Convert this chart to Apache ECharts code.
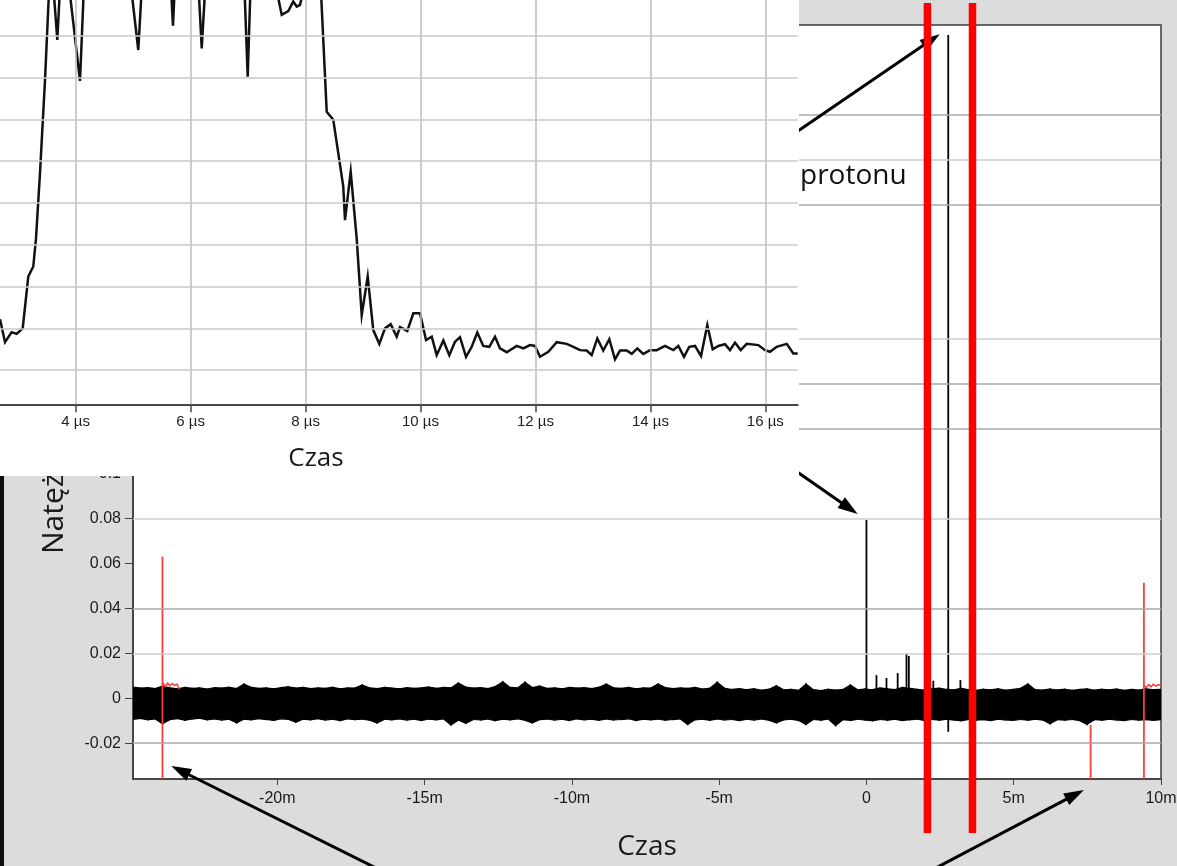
<!DOCTYPE html>
<html>
<head>
<meta charset="utf-8">
<script src="https://cdn.jsdelivr.net/npm/echarts@6/dist/echarts.min.js"></script>
<style>
html,body{margin:0;padding:0;width:1177px;height:866px;overflow:hidden;background:#dcdcdc;}
#main{position:absolute;left:0;top:0;width:1177px;height:866px;}
#inset{position:absolute;left:0;top:0;width:799px;height:476px;background:#ffffff;}
</style>
</head>
<body>
<div id="main"></div>
<div id="inset"></div>
<script>
// ================= DATA =================
// Main chart (time in ms, current in A)
const mainXTicks = [-20, -15, -10, -5, 0, 5, 10];
const mainYTicks = [-0.02, 0, 0.02, 0.04, 0.06, 0.08, 0.1, 0.12, 0.14, 0.16, 0.18, 0.2, 0.22, 0.24, 0.26, 0.28, 0.3];
const gridLinesStrong = [-0.02, 0.04, 0.12, 0.14, 0.22, 0.26];
const gridLinesFaint = [0.02, 0.08, 0.16, 0.24];

// Noise band envelope (upper / lower edge), evenly spaced from bandStart to bandEnd
const bandStart = -24.9, bandEnd = 10;
const bandHi = [
0.0050,0.0045,0.0047,0.0043,0.0054,0.0046,0.0042,0.0048,0.0044,0.0046,
0.0041,0.0047,0.0045,0.0049,0.0043,0.0063,0.0048,0.0044,0.0046,0.0042,
0.0047,0.0051,0.0045,0.0048,0.0043,0.0046,0.0044,0.0049,0.0042,0.0046,
0.0045,0.0059,0.0046,0.0043,0.0048,0.0045,0.0042,0.0047,0.0044,0.0046,
0.0050,0.0044,0.0048,0.0046,0.0068,0.0049,0.0045,0.0047,0.0043,0.0052,
0.0073,0.0048,0.0046,0.0071,0.0047,0.0054,0.0044,0.0046,0.0042,0.0048,
0.0045,0.0047,0.0043,0.0049,0.0063,0.0046,0.0044,0.0048,0.0042,0.0046,
0.0045,0.0063,0.0047,0.0043,0.0046,0.0044,0.0048,0.0041,0.0045,0.0071,
0.0044,0.0039,0.0043,0.0038,0.0042,0.0036,0.0040,0.0056,0.0037,0.0039,
0.0035,0.0063,0.0038,0.0034,0.0040,0.0036,0.0039,0.0059,0.0037,0.0041,
0.0038,0.0046,0.0042,0.0039,0.0048,0.0044,0.0040,0.0036,0.0042,0.0045,
0.0039,0.0037,0.0044,0.0038,0.0035,0.0040,0.0037,0.0042,0.0036,0.0039,
0.0044,0.0063,0.0038,0.0036,0.0041,0.0037,0.0040,0.0035,0.0039,0.0042,
0.0036,0.0040,0.0037,0.0041,0.0035,0.0039,0.0036,0.0042,0.0038,0.0040
];
const bandLo = [
-0.0094,-0.0090,-0.0096,-0.0092,-0.0114,-0.0095,-0.0091,-0.0098,-0.0093,-0.0089,
-0.0096,-0.0092,-0.0097,-0.0094,-0.0110,-0.0093,-0.0096,-0.0091,-0.0095,-0.0099,
-0.0092,-0.0094,-0.0107,-0.0093,-0.0096,-0.0091,-0.0097,-0.0094,-0.0100,-0.0092,
-0.0095,-0.0093,-0.0098,-0.0111,-0.0094,-0.0096,-0.0092,-0.0097,-0.0094,-0.0099,
-0.0093,-0.0096,-0.0092,-0.0119,-0.0098,-0.0112,-0.0095,-0.0097,-0.0093,-0.0100,
-0.0094,-0.0096,-0.0092,-0.0098,-0.0110,-0.0095,-0.0093,-0.0097,-0.0094,-0.0099,
-0.0092,-0.0096,-0.0094,-0.0098,-0.0093,-0.0097,-0.0095,-0.0092,-0.0099,-0.0094,
-0.0096,-0.0093,-0.0098,-0.0095,-0.0092,-0.0117,-0.0096,-0.0094,-0.0098,-0.0093,
-0.0097,-0.0095,-0.0100,-0.0094,-0.0097,-0.0093,-0.0098,-0.0110,-0.0096,-0.0094,
-0.0099,-0.0117,-0.0095,-0.0098,-0.0093,-0.0122,-0.0096,-0.0099,-0.0094,-0.0097,
-0.0101,-0.0095,-0.0098,-0.0094,-0.0100,-0.0096,-0.0093,-0.0099,-0.0095,-0.0098,
-0.0094,-0.0097,-0.0101,-0.0095,-0.0098,-0.0096,-0.0100,-0.0094,-0.0097,-0.0099,
-0.0095,-0.0098,-0.0094,-0.0097,-0.0114,-0.0096,-0.0098,-0.0095,-0.0100,-0.0117,
-0.0096,-0.0098,-0.0094,-0.0097,-0.0100,-0.0095,-0.0098,-0.0096,-0.0099,-0.0095
];

// Black spikes (time, top, bottom)
const spikeTimes   = [0.0,    0.34,   0.68,   1.06,   1.36,   1.44,   2.27,   2.777,   3.19];
const spikeTops    = [0.0794, 0.0103, 0.0090, 0.0112, 0.0200, 0.0188, 0.0078, 0.2955,  0.0081];
const spikeBottoms = [-0.006, 0.0,    0.0,    0.0,    0.0,    0.0,    0.0,    -0.0149, 0.0];

// Red channel spikes (time, top, bottom)
const redSpikeTimes   = [-23.90, 7.61,    9.42];
const redSpikeTops    = [0.0631, -0.0119, 0.0515];
const redSpikeBottoms = [-0.036, -0.036,  -0.036];
// Red channel noise fragments
const redNoiseA = [[-23.88,0.0068],[-23.80,0.0050],[-23.73,0.0069],[-23.65,0.0054],[-23.57,0.0067],[-23.49,0.0056],[-23.41,0.0064],[-23.32,0.0040]];
const redNoiseB = [[9.43,0.0058],[9.50,0.0046],[9.58,0.0062],[9.66,0.0050],[9.74,0.0063],[9.82,0.0053],[9.90,0.0061],[10.0,0.0056]];

// Annotation anchors (data coords)
const redMarkerTimes = [2.07, 3.60];
const arrowTips = [[2.488, 0.2959], [-0.299, 0.0821], [-23.60, -0.0302], [7.383, -0.0409]];

// Inset chart (time in µs)
const insetXTicks = [4, 6, 8, 10, 12, 14, 16];
const insetGridY = [0, 1, 2, 3, 4, 5, 6, 7, 8];
const insetTime = [2.683,2.770,2.886,2.973,3.078,3.175,3.262,3.309,3.379,3.466,3.560,3.610,3.680,3.740,3.820,3.900,4.075,4.150,4.250,4.400,4.600,4.800,4.960,5.089,5.160,5.300,5.500,5.660,5.693,5.725,5.900,6.140,6.193,6.260,6.450,6.700,6.935,6.993,7.045,7.250,7.460,7.525,7.585,7.699,7.786,7.846,7.903,8.000,8.150,8.270,8.368,8.482,8.656,8.686,8.785,8.890,8.977,9.081,9.178,9.283,9.382,9.481,9.586,9.643,9.770,9.875,9.991,10.096,10.195,10.282,10.397,10.501,10.600,10.687,10.792,10.891,10.988,11.092,11.197,11.296,11.383,11.500,11.674,11.789,11.905,11.992,12.079,12.224,12.370,12.544,12.659,12.775,12.892,12.979,13.076,13.180,13.285,13.384,13.471,13.588,13.675,13.772,13.877,13.993,14.110,14.254,14.398,14.486,14.585,14.677,14.776,14.881,14.990,15.084,15.182,15.298,15.385,15.472,15.571,15.676,15.878,15.994,16.081,16.198,16.372,16.487,16.563];
const insetValue = [1.22,0.67,0.91,0.87,1.00,2.24,2.48,3.14,4.72,6.94,9.80,9.20,7.90,9.50,10.2,9.00,6.92,9.40,10.1,9.90,10.3,10.0,9.20,7.66,9.40,10.2,9.90,9.10,8.24,9.20,10.1,9.10,7.70,9.30,10.0,10.2,9.20,7.02,9.30,9.90,9.10,8.90,8.50,8.59,8.82,8.70,8.74,9.30,10.0,9.00,6.18,5.99,4.39,3.59,4.75,3.14,1.32,2.24,0.96,0.63,1.00,1.10,0.80,1.03,0.94,1.36,1.36,0.72,0.80,0.36,0.71,0.36,0.68,0.79,0.32,0.56,0.90,0.58,0.56,0.80,0.52,0.43,0.58,0.52,0.60,0.58,0.32,0.44,0.67,0.63,0.56,0.48,0.47,0.36,0.76,0.47,0.74,0.26,0.47,0.47,0.39,0.52,0.39,0.48,0.48,0.58,0.48,0.58,0.32,0.56,0.58,0.34,1.08,0.50,0.58,0.62,0.48,0.66,0.48,0.63,0.60,0.48,0.44,0.56,0.63,0.40,0.40];

// ================= STYLE =================
const FONT_TICK = '"Liberation Sans", Arial, Helvetica, sans-serif';
const FONT_TITLE = '"Open Sans", "Noto Sans", sans-serif';
const TXT = '#1a1a1a';

const bandTime = bandHi.map((_, i) => bandStart + i * (bandEnd - bandStart) / (bandHi.length - 1));

function spikeSeries(times, tops, bottoms, color, width, z) {
  return {
    type: 'custom', z: z, silent: true, clip: true, animation: false,
    data: times.map((t, i) => [t, tops[i], bottoms[i]]),
    encode: { x: 0, y: [1, 2] },
    renderItem: function (params, api) {
      const a = api.coord([api.value(0), api.value(1)]);
      const b = api.coord([api.value(0), api.value(2)]);
      return { type: 'line', shape: { x1: a[0], y1: a[1], x2: b[0], y2: b[1] },
               style: { stroke: color, lineWidth: width } };
    }
  };
}

// ================= MAIN CHART =================
const chart = echarts.init(document.getElementById('main'));
chart.setOption({
  animation: false,
  backgroundColor: '#dcdcdc',
  grid: { left: 133, right: 16, top: 25, bottom: 87, show: true, backgroundColor: '#ffffff',
          borderColor: '#3c3c3c', borderWidth: 1.5, containLabel: false, outerBoundsMode: 'none' },
  xAxis: {
    type: 'value', min: bandStart, max: bandEnd,
    axisLine: { show: true, onZero: false, lineStyle: { color: '#3c3c3c', width: 1.5 } },
    axisTick: { show: true, customValues: mainXTicks, length: 6, lineStyle: { color: '#444', width: 1 } },
    axisLabel: { customValues: mainXTicks, color: TXT, fontSize: 16, fontFamily: FONT_TICK, margin: 12,
                 formatter: v => (Math.abs(v) < 1e-9 ? '0' : Math.round(v) + 'm') },
    splitLine: { show: false },
    name: 'Czas', nameLocation: 'middle', nameGap: 54,
    nameTextStyle: { fontFamily: FONT_TITLE, fontSize: 28, color: TXT }
  },
  yAxis: {
    type: 'value', min: -0.036, max: 0.3,
    axisLine: { show: true, onZero: false, lineStyle: { color: '#3c3c3c', width: 1.5 } },
    axisTick: { show: true, customValues: mainYTicks, length: 8, lineStyle: { color: '#444', width: 1 } },
    axisLabel: { customValues: mainYTicks, color: TXT, fontSize: 16, fontFamily: FONT_TICK, margin: 12,
                 formatter: v => String(+(+v).toFixed(3)) },
    splitLine: { show: false }
  },
  series: [
    {
      type: 'line', z: 1, silent: true, symbol: 'none', data: [[bandStart, -0.036]],
      lineStyle: { width: 0 },
      markLine: {
        silent: true, symbol: 'none', animation: false, label: { show: false },
        lineStyle: { type: 'solid', width: 1.5, color: '#bdbdbd' },
        emphasis: { disabled: true },
        data: gridLinesStrong.map(v => ({ yAxis: v, lineStyle: { color: '#a9a9a9', width: 1.5, type: 'solid' } }))
          .concat(gridLinesFaint.map(v => ({ yAxis: v, lineStyle: { color: '#cecece', width: 1.5, type: 'solid' } })))
      }
    },
    {
      type: 'custom', z: 2, silent: true, clip: true, animation: false,
      data: bandHi.map((h, i) => [bandTime[i], h, bandLo[i]]),
      encode: { x: 0, y: [1, 2] },
      renderItem: function (params, api) {
        const i = params.dataIndex;
        if (i >= bandTime.length - 1) return;
        const p1 = api.coord([bandTime[i], bandHi[i]]);
        const p2 = api.coord([bandTime[i + 1], bandHi[i + 1]]);
        const p3 = api.coord([bandTime[i + 1], bandLo[i + 1]]);
        const p4 = api.coord([bandTime[i], bandLo[i]]);
        return { type: 'polygon', shape: { points: [p1, p2, p3, p4] },
                 style: { fill: '#000', stroke: '#000', lineWidth: 1.2 } };
      }
    },
    spikeSeries(spikeTimes, spikeTops, spikeBottoms, '#000000', 1.8, 3),
    spikeSeries(redSpikeTimes, redSpikeTops, redSpikeBottoms, '#ff3b3b', 1.8, 4),
    { type: 'line', z: 4, silent: true, symbol: 'none', data: redNoiseA, lineStyle: { color: '#ff3b3b', width: 1.5 } },
    { type: 'line', z: 4, silent: true, symbol: 'none', data: redNoiseB, lineStyle: { color: '#ff3b3b', width: 1.5 } }
  ]
});

// ---- annotations (positions derived from the chart's own scales) ----
function px(t, v) { return chart.convertToPixel({ gridIndex: 0 }, [t, v]); }
const arrowTails = [[700, 198], [760, 446], [380, 870], [932, 870]];
const gfx = [];
gfx.push({ type: 'rect', z: 100, shape: { x: 0, y: 476, width: 4, height: 390 }, style: { fill: '#0a100a' } });
gfx.push({ type: 'text', z: 100, x: 54, y: 554, rotation: Math.PI / 2,
  style: { text: 'Natężenie', font: '30px ' + FONT_TITLE, fill: TXT, align: 'left', verticalAlign: 'middle',
           textAlign: 'left', textVerticalAlign: 'middle' } });
gfx.push({ type: 'text', z: 100, x: 800, y: 176,
  style: { text: 'protonu', font: '28px ' + FONT_TITLE, fill: '#111', align: 'left', verticalAlign: 'middle',
           textAlign: 'left', textVerticalAlign: 'middle' } });
arrowTips.forEach((tipData, k) => {
  const tip = px(tipData[0], tipData[1]);
  const tail = arrowTails[k];
  const dx = tip[0] - tail[0], dy = tip[1] - tail[1];
  const len = Math.sqrt(dx * dx + dy * dy);
  const ux = dx / len, uy = dy / len;
  const hl = 20, hw = 6.5;
  const bx = tip[0] - ux * hl, by = tip[1] - uy * hl;
  gfx.push({ type: 'line', z: 101, shape: { x1: tail[0], y1: tail[1], x2: bx + ux * 2, y2: by + uy * 2 },
             style: { stroke: '#000', lineWidth: 3 } });
  gfx.push({ type: 'polygon', z: 101,
             shape: { points: [[tip[0], tip[1]], [bx - uy * hw, by + ux * hw], [bx + uy * hw, by - ux * hw]] },
             style: { fill: '#000' } });
});
redMarkerTimes.forEach(t => {
  const x = px(t, 0)[0];
  gfx.push({ type: 'rect', z: 110, shape: { x: x - 3.75, y: 3, width: 7.5, height: 830 }, style: { fill: '#ff0000' } });
});
chart.setOption({ graphic: { elements: gfx } });

// ================= INSET CHART =================
const inset = echarts.init(document.getElementById('inset'));
inset.setOption({
  animation: false,
  backgroundColor: '#ffffff',
  grid: { left: 0, right: 1.3, top: 0, bottom: 71.7, containLabel: false, outerBoundsMode: 'none' },
  xAxis: {
    type: 'value', min: insetTime[0], max: insetTime[insetTime.length - 1],
    axisLine: { show: true, onZero: false, lineStyle: { color: '#454545', width: 2 } },
    axisTick: { show: true, customValues: insetXTicks, length: 8, lineStyle: { color: '#444', width: 1.5 } },
    axisLabel: { customValues: insetXTicks, color: '#222', fontSize: 15, fontFamily: FONT_TICK, margin: 10,
                 formatter: v => Math.round(v) + ' µs' },
    splitLine: { show: false }
  },
  yAxis: {
    type: 'value', min: -0.816, max: 8.856,
    axisLine: { show: false, onZero: false }, axisTick: { show: false }, axisLabel: { show: false }, splitLine: { show: false }
  },
  series: [
    {
      type: 'line', z: 1, silent: true, symbol: 'none', data: [[insetTime[0], 0]], lineStyle: { width: 0 },
      markLine: {
        silent: true, symbol: 'none', animation: false, label: { show: false },
        emphasis: { disabled: true },
        lineStyle: { type: 'solid', width: 1.5, color: '#c6c6c6' },
        data: insetXTicks.map(v => ({ xAxis: v, lineStyle: { color: '#bcbcbc', width: 1.5, type: 'solid' } }))
          .concat(insetGridY.map(v => ({ yAxis: v, lineStyle: { color: '#c8c8c8', width: 1.5, type: 'solid' } })))
      }
    },
    {
      type: 'line', z: 3, silent: true, symbol: 'none', clip: true,
      data: insetTime.map((t, i) => [t, insetValue[i]]),
      lineStyle: { color: '#111', width: 2.5, join: 'miter' }
    }
  ],
  graphic: { elements: [
    { type: 'text', x: 316, y: 459,
      style: { text: 'Czas', font: '26px ' + FONT_TITLE, fill: TXT, align: 'center', verticalAlign: 'middle',
               textAlign: 'center', textVerticalAlign: 'middle' } }
  ] }
});
</script>
</body>
</html>
